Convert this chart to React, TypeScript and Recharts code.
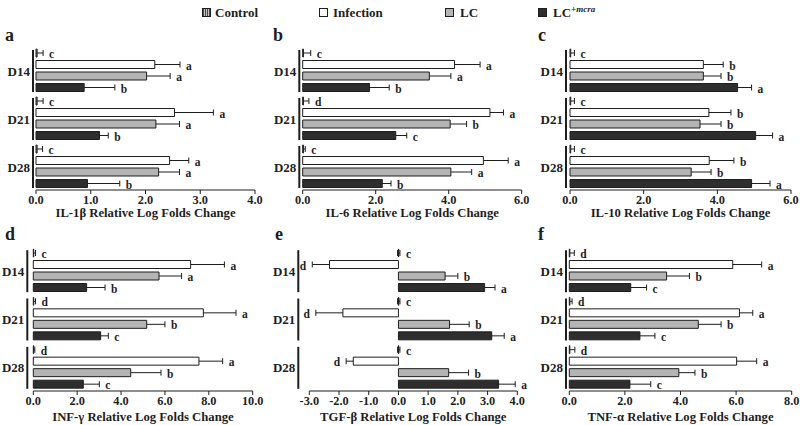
import React from 'react';
import { BarChart, Bar, XAxis, YAxis } from 'recharts';

const FONT = '"Liberation Serif", "Times New Roman", serif';
const INK = '#1e1e1e';

const days = ['D14', 'D21', 'D28'];
const seriesKeys = ['ctrl', 'inf', 'lc', 'lcm'];
const seriesFill: Record<string, string> = { ctrl: '#8c8c8c', inf: '#ffffff', lc: '#b4b4b4', lcm: '#2e2e2e' };

// rows = days, columns = Control, Infection, LC, LC+mcra
const il1bMeans = [[0.02, 2.17, 2.02, 0.88], [0.02, 2.53, 2.19, 1.16], [0.02, 2.44, 2.24, 0.94]];
const il1bErrs = [[0.11, 0.46, 0.43, 0.56], [0.11, 0.71, 0.43, 0.16], [0.1, 0.35, 0.38, 0.59]];
const il1bLetters = [['c', 'a', 'a', 'b'], ['c', 'a', 'a', 'b'], ['c', 'a', 'a', 'b']];

const il6Means = [[0.02, 4.16, 3.47, 1.83], [0.02, 5.13, 4.04, 2.55], [0.02, 4.95, 4.06, 2.18]];
const il6Errs = [[0.2, 0.7, 0.59, 0.54], [0.15, 0.37, 0.45, 0.3], [0.05, 0.68, 0.57, 0.24]];
const il6Letters = [['c', 'a', 'a', 'b'], ['d', 'a', 'b', 'c'], ['c', 'a', 'a', 'b']];

const il10Means = [[0.02, 3.62, 3.62, 4.55], [0.02, 3.77, 3.53, 5.04], [0.02, 3.78, 3.29, 4.93]];
const il10Errs = [[0.1, 0.54, 0.48, 0.38], [0.1, 0.6, 0.57, 0.46], [0.1, 0.67, 0.54, 0.5]];
const il10Letters = [['c', 'b', 'b', 'a'], ['c', 'b', 'b', 'a'], ['c', 'b', 'b', 'a']];

const infgMeans = [[0.02, 7.17, 5.73, 2.43], [0.02, 7.75, 5.17, 3.07], [0.02, 7.55, 4.44, 2.28]];
const infgErrs = [[0.08, 1.54, 1.03, 0.84], [0.08, 1.49, 0.83, 0.35], [0.05, 1.08, 1.38, 0.73]];
const infgLetters = [['c', 'a', 'a', 'b'], ['d', 'a', 'b', 'c'], ['d', 'a', 'b', 'c']];

const tgfbMeans = [[0.01, -2.32, 1.57, 2.9], [0.01, -1.87, 1.72, 3.14], [0.01, -1.52, 1.69, 3.37]];
const tgfbErrs = [[0.04, 0.58, 0.43, 0.35], [0.04, 0.91, 0.66, 0.42], [0.04, 0.24, 0.67, 0.56]];
const tgfbLetters = [['c', 'd', 'b', 'a'], ['c', 'd', 'b', 'a'], ['c', 'd', 'b', 'a']];

const tnfaMeans = [[0.02, 5.88, 3.5, 2.21], [0.02, 6.12, 4.64, 2.54], [0.02, 6.02, 3.94, 2.18]];
const tnfaErrs = [[0.16, 1.04, 0.82, 0.57], [0.08, 0.48, 0.82, 0.54], [0.18, 0.72, 0.58, 0.75]];
const tnfaLetters = [['d', 'a', 'b', 'c'], ['d', 'a', 'b', 'c'], ['d', 'a', 'b', 'c']];

function buildRows(means: number[][], errs: number[][], letters: string[][]) {
  return days.map((day, i) => {
    const row: Record<string, any> = { day };
    seriesKeys.forEach((k, j) => {
      const m = means[i][j];
      row[k] = m;
      row[k + 'E'] = m < 0 ? -errs[i][j] : errs[i][j];
      row[k + 'L'] = letters[i][j];
    });
    return row;
  });
}

const panels = [
  { id: 'a', title: 'IL-1β Relative Log Folds Change', means: il1bMeans, errs: il1bErrs, letters: il1bLetters, domain: [0, 4], ticks: [0, 1, 2, 3, 4], left: 0, top: 26, width: 265, yw: 36, mr: 10, gap: 3, bottom: false },
  { id: 'b', title: 'IL-6 Relative Log Folds Change', means: il6Means, errs: il6Errs, letters: il6Letters, domain: [0, 6], ticks: [0, 2, 4, 6], left: 265, top: 26, width: 267, yw: 37.7, mr: 10.3, gap: 3.4, bottom: false },
  { id: 'c', title: 'IL-10 Relative Log Folds Change', means: il10Means, errs: il10Errs, letters: il10Letters, domain: [0, 6], ticks: [0, 2, 4, 6], left: 532, top: 26, width: 268, yw: 38, mr: 9, gap: 4, bottom: false },
  { id: 'd', title: 'INF-γ Relative Log Folds Change', means: infgMeans, errs: infgErrs, letters: infgLetters, domain: [0, 10], ticks: [0, 2, 4, 6, 8, 10], left: 0, top: 226, width: 265, yw: 33.3, mr: 12.3, gap: 6, bottom: true },
  { id: 'e', title: 'TGF-β Relative Log Folds Change', means: tgfbMeans, errs: tgfbErrs, letters: tgfbLetters, domain: [-3, 4], ticks: [-3, -2, -1, 0, 1, 2, 3, 4], left: 265, top: 226, width: 265, yw: 44.3, mr: 12.7, gap: 11, bottom: true, both: true },
  { id: 'f', title: 'TNF-α Relative Log Folds Change', means: tnfaMeans, errs: tnfaErrs, letters: tnfaLetters, domain: [0, 8], ticks: [0, 2, 4, 6, 8], left: 532, top: 226, width: 268, yw: 37.3, mr: 8.3, gap: 3.3, bottom: true },
];

function DayTick(props: any) {
  const { x, y, payload, gap } = props;
  const bx = x - gap;
  return (
    <g>
      <line x1={bx} x2={bx} y1={y - 20} y2={y + 22} stroke={INK} strokeWidth={2} />
      <text x={bx - 3} y={y + 1} textAnchor="end" dominantBaseline="central"
        fontFamily={FONT} fontWeight="bold" fontSize={13} fill={INK}>
        {payload.value}
      </text>
    </g>
  );
}

function ErrMark(props: any) {
  const { x, y, width, height, payload, k, both } = props;
  if (x == null || payload == null) return null;
  const v = payload[k];
  const neg = v < 0;
  const cy = y + height / 2;
  const p0 = x;
  const p1 = x + width;
  const start = neg ? Math.max(p0, p1) : Math.min(p0, p1);
  const end = neg ? Math.min(p0, p1) : Math.max(p0, p1);
  const len = Math.abs(end - start);
  const lo = both && k === 'ctrl' ? start - len : start;
  const lx = neg ? end - 6 : end + 6;
  return (
    <g>
      <line x1={lo} x2={end} y1={cy} y2={cy} stroke={INK} strokeWidth={1} />
      <line x1={end} x2={end} y1={cy - 3} y2={cy + 3} stroke={INK} strokeWidth={1} />
      {lo !== start && <line x1={lo} x2={lo} y1={cy - 3} y2={cy + 3} stroke={INK} strokeWidth={1} />}
      <text x={lx} y={cy + 1} textAnchor={neg ? 'end' : 'start'} dominantBaseline="central"
        fontFamily={FONT} fontWeight="bold" fontSize={11.5} fill={INK}>
        {payload[k + 'L']}
      </text>
    </g>
  );
}

function Panel({ cfg }: { cfg: any }) {
  const rows = buildRows(cfg.means, cfg.errs, cfg.letters);
  const plotH = cfg.bottom ? 145 : 144;
  const axisH = cfg.bottom ? 30 : 27;
  return (
    <div style={{ position: 'absolute', left: cfg.left, top: cfg.top }}>
      <BarChart width={cfg.width} height={20 + plotH + axisH + 5} data={rows} layout="vertical"
        barSize={8} barGap={3.5} margin={{ top: 20, right: cfg.mr, bottom: 5, left: 0 }}>
        <XAxis type="number" domain={cfg.domain} ticks={cfg.ticks} interval={0} height={axisH}
          tickFormatter={(v: number) => v.toFixed(1)}
          axisLine={{ stroke: INK, strokeWidth: 1.2 }} tickLine={{ stroke: INK }} tickSize={4} tickMargin={1}
          tick={{ fontFamily: FONT, fontWeight: 'bold', fontSize: 12.3, fill: INK }}
          label={{ value: cfg.title, position: 'insideBottom', offset: 0, fontFamily: FONT, fontWeight: 'bold', fontSize: 12.7, fill: INK }} />
        <YAxis type="category" dataKey="day" width={cfg.yw} axisLine={false} tickLine={false}
          tickSize={0} tickMargin={0} interval={0}
          tick={(p: any) => <DayTick {...p} gap={cfg.gap} />} />
        {seriesKeys.map((k) => (
          <Bar key={k} dataKey={k} stackId={k} fill={seriesFill[k]} stroke={INK} strokeWidth={1}
            isAnimationActive={false} />
        ))}
        {seriesKeys.map((k) => (
          <Bar key={k + 'E'} dataKey={k + 'E'} stackId={k} fill="none" isAnimationActive={false}
            shape={(p: any) => <ErrMark {...p} k={k} both={cfg.both} />} />
        ))}
      </BarChart>
    </div>
  );
}

const legendItems = [
  { label: 'Control', sx: 202, tx: 215 },
  { label: 'Infection', sx: 319, tx: 333 },
  { label: 'LC', sx: 445, tx: 460 },
  { label: 'LC', sup: '+mcra', sx: 538, tx: 553 },
];
const legendSwatch = [
  'repeating-linear-gradient(90deg, #4a4a4a 0 1px, #c4c4c4 1px 2px)',
  '#ffffff',
  '#b4b4b4',
  '#2e2e2e',
];

export default function App() {
  return (
    <div style={{ position: 'absolute', left: 0, top: 0, width: 800, height: 425, background: '#fff', fontFamily: FONT, color: INK, overflow: 'hidden' }}>
      {legendItems.map((it, i) => (
        <React.Fragment key={i}>
          <div style={{ position: 'absolute', left: it.sx, top: 8, width: 7, height: 7, border: `1px solid ${INK}`, background: legendSwatch[i] }} />
          <div style={{ position: 'absolute', left: it.tx, top: 4, fontSize: 13, fontWeight: 'bold', lineHeight: '17px', whiteSpace: 'nowrap' }}>
            {it.label}
            {it.sup && <sup style={{ fontSize: 9, fontStyle: 'italic', verticalAlign: 'top', lineHeight: '10px' }}>{it.sup}</sup>}
          </div>
        </React.Fragment>
      ))}
      {panels.map((cfg) => (
        <React.Fragment key={cfg.id}>
          <Panel cfg={cfg} />
          <div style={{ position: 'absolute', left: cfg.left === 0 ? 5 : cfg.left + (cfg.id === 'e' ? 10 : cfg.id === 'b' ? 8 : 6), top: cfg.bottom ? 225 : 26, fontSize: 18, fontWeight: 'bold', lineHeight: '18px' }}>
            {cfg.id}
          </div>
        </React.Fragment>
      ))}
    </div>
  );
}
